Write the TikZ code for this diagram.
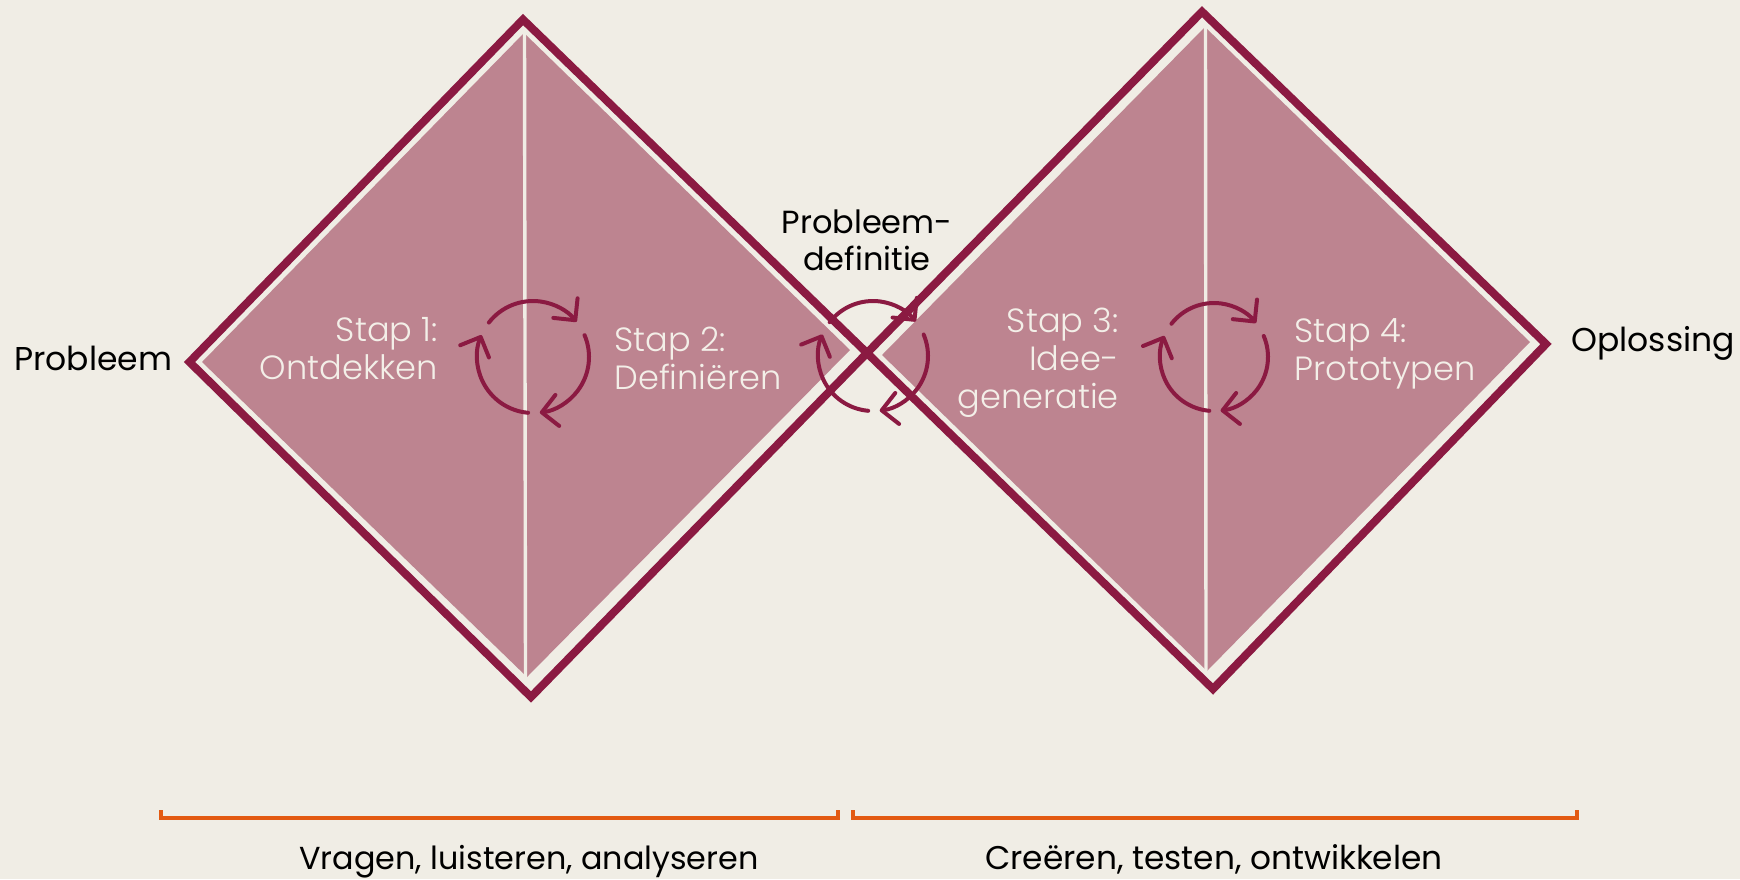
\documentclass[tikz,border=0pt]{standalone}
\usepackage{fontspec}
\setmainfont{Poppins}
\newfontfamily\lightfont{Poppins Light}
\usetikzlibrary{arrows.meta,calc}
\definecolor{bg}{HTML}{F0EDE5}
\definecolor{wine}{HTML}{8B1A42}
\definecolor{rose}{HTML}{BD8490}
\definecolor{brk}{HTML}{E35A12}
\definecolor{cream}{HTML}{F3EFE8}
\newcommand\mycyc[2]{%
  \draw[cyc] ($(#1)+(-142:#2)$) arc[start angle=-142,end angle=-39,radius=#2];
  \draw[cyc] ($(#1)+(-23:#2)$) arc[start angle=-23,end angle=83,radius=#2];
  \draw[cyc] ($(#1)+(95:#2)$) arc[start angle=95,end angle=203,radius=#2];
}
\begin{document}
\begin{tikzpicture}[x=0.5pt,y=-0.5pt,
  outline/.style={draw=wine, line width=4pt, line join=miter},
  petal/.style={fill=rose},
  divider/.style={draw=bg, line width=1.7pt},
  cyc/.style={draw=wine, line width=2pt, line cap=round,
    -{Straight Barb[length=7.8pt,width=15.6pt,round]}},
  dark/.style={text=black, font=\fontsize{16.5}{19}\selectfont, inner sep=0pt},
  light/.style={text=cream, font=\lightfont\fontsize{16.8}{19}\selectfont, inner sep=0pt},
  bracket/.style={draw=brk, line width=1.6pt}]
\fill[bg] (0,0) rectangle (1740,879);
\useasboundingbox (0,0) rectangle (1740,879);
% left diamond
\coordinate (LT) at (523,19.5);
\coordinate (LL) at (189.5,362);
\coordinate (LB) at (531,697);
\coordinate (X) at (867,353);
% right diamond
\coordinate (RT) at (1202,11.7);
\coordinate (RR) at (1546,344);
\coordinate (RB) at (1213,689);
% pink fills
\fill[petal] (524,33) -- (850,350) -- (527,677) -- (202,362) -- cycle;
\fill[petal] (1205,27) -- (1530,342) -- (1207,671) -- (882,355) -- cycle;
% dividers
\draw[divider] (524.5,30) -- (525.5,680);
\draw[divider] (1205.5,24) -- (1206,674);
% outlines
\draw[outline] (LT) -- (X) -- (LB) -- (LL) -- cycle;
\draw[outline] (X) -- (RT) -- (RR) -- (RB) -- cycle;
% cycles
\coordinate (c1) at (533,357);
\coordinate (c2) at (873,356);
\coordinate (c3) at (1214,357);
\mycyc{c1}{56}
\mycyc{c2}{55}
\mycyc{c3}{54}
% texts
\node[dark, anchor=base west] (probleem) at (14,370) {Probleem};
\node[dark, anchor=base west] (oplossing) at (1571,351) {Oplossing};
\node[dark, align=center, anchor=base, font=\fontsize{16}{18.4}\selectfont] (probdef) at (867,270) {Probleem-\\definitie};
\node[light, align=right, anchor=base east] (s1) at (438,379) {Stap 1:\\Ontdekken};
\node[light, align=left, anchor=base west] (s2) at (614,389) {Stap 2:\\Definiëren};
\node[light, align=right, anchor=base east] (s3) at (1119,408.6) {Stap 3:\\Idee-\\generatie};
\node[light, align=left, anchor=base west] (s4) at (1294,380) {Stap 4:\\Prototypen};
% brackets
\draw[bracket] (161,810) -- (161,818) -- (838,818) -- (838,810);
\draw[bracket] (853,810) -- (853,818) -- (1577,818) -- (1577,810);
\node[dark, anchor=base, font=\fontsize{15.9}{19}\selectfont] (b1) at (529,869) {Vragen, luisteren, analyseren};
\node[dark, anchor=base, font=\fontsize{16.4}{19}\selectfont] (b2) at (1214,869) {Creëren, testen, ontwikkelen};
\end{tikzpicture}
\end{document}
